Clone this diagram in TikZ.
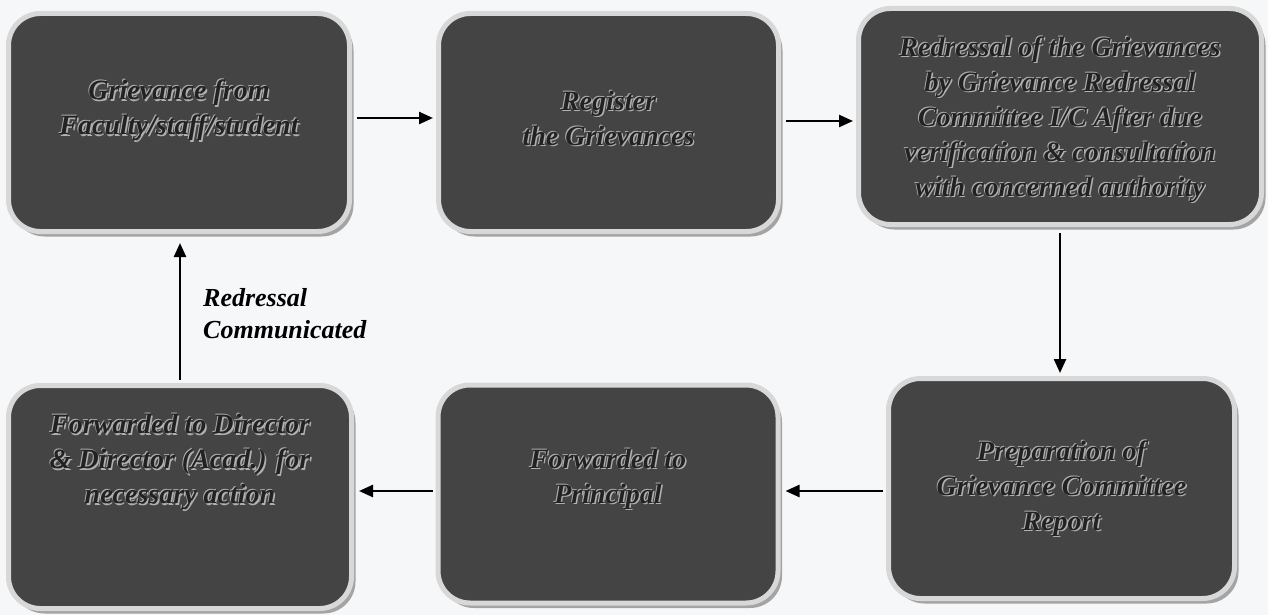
\documentclass[tikz,border=0pt]{standalone}
\usepackage{fontspec}
\setmainfont{Liberation Serif}
\usetikzlibrary{arrows.meta,shadows,calc}
\definecolor{bg}{HTML}{F6F7F9}
\definecolor{boxfill}{HTML}{444444}
\definecolor{boxrim}{HTML}{D8D8D8}
\definecolor{boxshade}{HTML}{A4A4A4}
\definecolor{txtdark}{HTML}{222222}
\definecolor{txthalo}{HTML}{B0B0B0}
\newcommand\embtext[3]{%
  \node[halo] (#1h1) at ([shift={(1.4pt,-1.4pt)}]#2) {#3};
  \node[halo] (#1h2) at ([shift={(-0.9pt,0.9pt)}]#2) {#3};
  \node[boxtext] (#1) at (#2) {#3};}
\begin{document}
\begin{tikzpicture}[x=1pt,y=-1pt,
  stepbox/.style={rectangle, rounded corners=32pt, fill=boxfill, draw=boxrim,
    line width=5pt, drop shadow={shadow xshift=4pt, shadow yshift=-5pt, fill=boxshade, opacity=1}},
  boxtext/.style={align=center, font=\fontsize{28}{35}\selectfont\bfseries\itshape,
    text=txtdark, inner sep=0pt},
  halo/.style={boxtext, text=txthalo},
  lbl/.style={align=left, font=\fontsize{26}{32}\selectfont\bfseries\itshape, text=black, inner sep=0pt},
  flow/.style={line width=2.4pt, -{Triangle[length=14pt,width=12pt]}},
]
\useasboundingbox (0,0) rectangle (1268,615);
\fill[bg] (0,0) rectangle (1268,615);

\node[stepbox, minimum width=341pt, minimum height=218pt] (B1) at (179,122.5) {};
\node[stepbox, minimum width=340pt, minimum height=218pt] (B2) at (608.5,122.5) {};
\node[stepbox, minimum width=403pt, minimum height=216pt] (B3) at (1060,116.5) {};
\node[stepbox, minimum width=346pt, minimum height=220pt] (B4) at (1061.5,488.5) {};
\node[stepbox, minimum width=340pt, minimum height=218pt] (B5) at (608,494) {};
\node[stepbox, minimum width=343pt, minimum height=223pt] (B6) at (180,497) {};

\coordinate (c1) at ([yshift=12pt]B1.center);
\coordinate (c2) at ([yshift=4pt]B2.center);
\coordinate (c3) at ([yshift=-3pt]B3.center);
\coordinate (c4) at (B4.center);
\coordinate (c5) at ([yshift=15pt]B5.center);
\coordinate (c6) at ([yshift=35pt]B6.center);

\embtext{T1}{c1}{Grievance from\\Faculty/staff/student}
\embtext{T2}{c2}{Register\\the Grievances}
\embtext{T3}{c3}{Redressal of the Grievances\\by Grievance Redressal\\Committee I/C After due\\verification \& consultation\\with concerned authority}
\embtext{T4}{c4}{Preparation of\\Grievance Committee\\Report}
\embtext{T5}{c5}{Forwarded to\\Principal}
\embtext{T6}{c6}{Forwarded to Director\\\& Director (Acad.) for\\necessary action}

\node[lbl, anchor=west] (L) at (203,314) {Redressal\\Communicated};

\draw[flow, shorten <=5pt, shorten >=3pt] ([yshift=4.5pt]B1.east) -- ([yshift=4.5pt]B1.east -| B2.west);
\draw[flow, shorten <=5pt, shorten >=3pt] ([yshift=1.5pt]B2.east) -- ([yshift=1.5pt]B2.east -| B3.west);
\draw[flow, shorten <=6pt, shorten >=3pt] (B3.south) -- (B3.south |- B4.north);
\draw[flow, shorten <=3pt, shorten >=5pt] ([yshift=-2.5pt]B4.west) -- ([yshift=-2.5pt]B4.west -| B5.east);
\draw[flow, shorten <=3pt, shorten >=5pt] ([yshift=3pt]B5.west) -- ([yshift=3pt]B5.west -| B6.east);
\draw[flow, shorten <=3pt, shorten >=9pt] (B6.north) -- (B6.north |- B1.south);
\end{tikzpicture}
\end{document}
